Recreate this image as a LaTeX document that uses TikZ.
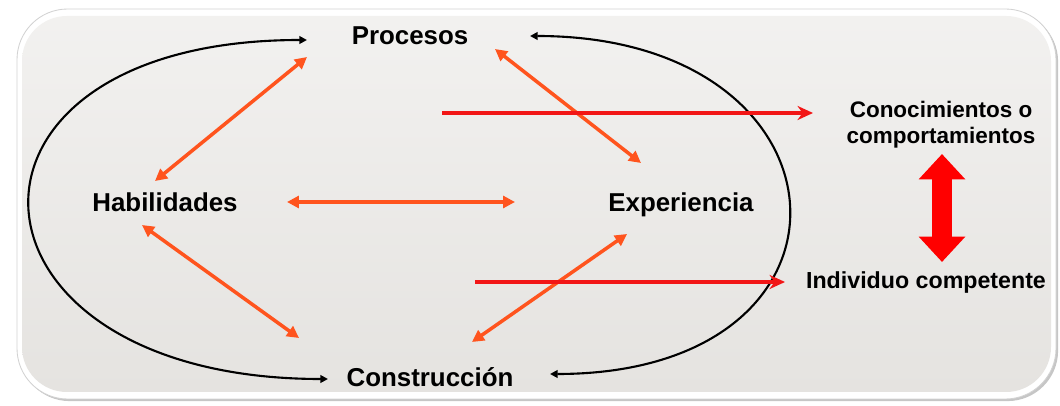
\documentclass[tikz,border=0pt]{standalone}
\usepackage{fontspec}
\setmainfont{Liberation Sans}
\usepackage{xcolor}
\usetikzlibrary{arrows.meta,shadows}

\definecolor{linkorange}{RGB}{255,84,30}
\definecolor{flowred}{RGB}{242,22,22}
\definecolor{panelgray}{RGB}{229,227,224}

\begin{document}
\begin{tikzpicture}[
  x=0.025cm, y=-0.025cm,
  term/.style={font=\fontsize{18.4}{22}\selectfont\bfseries, anchor=base, inner sep=0pt},
  result/.style={font=\fontsize{16}{18.5}\selectfont\bfseries, align=center, inner sep=0pt},
  link/.style={{Triangle[length=8.5pt,width=8.5pt]}-{Triangle[length=8.5pt,width=8.5pt]}, line width=2.5pt, draw=linkorange},
  ring/.style={{Triangle[length=5.5pt,width=5.5pt]}-{Triangle[length=5.5pt,width=5.5pt]}, line width=1.5pt},
  flow/.style={-{Stealth[length=11pt,width=10pt]}, line width=2.8pt, draw=flowred},
  bigflow/.style={{Triangle[length=18pt,width=32pt]}-{Triangle[length=18pt,width=32pt]}, line width=14pt, draw=red}
]
\useasboundingbox (0,0) rectangle (1060,406);

% panel
\fill[white, rounded corners=36pt, drop shadow={shadow xshift=1.5pt, shadow yshift=-1.5pt, opacity=0.45}] (17,9) rectangle (1056,399);
\draw[gray!35, line width=0.6pt, rounded corners=36pt] (17,9) rectangle (1056,399);
\shade[rounded corners=32pt, top color=panelgray!50!white, bottom color=panelgray] (22,16) rectangle (1051,392);

\node[term] (proc) at (410,45) {Procesos};
\node[term] (hab) at (165,212) {Habilidades};
\node[term] (exp) at (681,212) {Experiencia};
\node[term] (cons) at (430,387) {Construcción};
\node[result] (conoc) at (941,125) {Conocimientos o\\comportamientos};
\node[result, anchor=base, font=\fontsize{16.5}{19}\selectfont\bfseries] (indiv) at (926,289) {Individuo competente};

\coordinate (upstart) at (442,113);
\coordinate (lowstart) at (475,282);

% cycle
\draw[ring] ([shift={(-103,-5)}]proc.base) .. controls +(-383,0) and +(-383,0) .. ([shift={(-102,-8)}]cons.base);
\draw[ring] ([shift={(120,-9)}]proc.base) .. controls +(331,0) and +(331,0) .. ([shift={(120,-13)}]cons.base);

\draw[link] ([shift={(-103,12)}]proc.base) -- ([shift={(-10,-31)}]hab.base);
\draw[link] ([shift={(85,4)}]proc.base) -- ([shift={(-40,-49)}]exp.base);
\draw[link] ([shift={(122,-10)}]hab.base) -- ([shift={(-166,-10)}]exp.base);
\draw[link] ([shift={(-23,13)}]hab.base) -- ([shift={(-131,-49)}]cons.base);
\draw[link] ([shift={(-54,22)}]exp.base) -- ([shift={(42,-45)}]cons.base);

\draw[flow] (upstart) -- ([shift={(-128,-12)}]conoc.center);
\draw[flow] (lowstart) -- ([shift={(-141,-7)}]indiv.base);
\draw[bigflow] ([shift={(1,29)}]conoc.center) -- ([shift={(16,-27)}]indiv.base);
\end{tikzpicture}
\end{document}
